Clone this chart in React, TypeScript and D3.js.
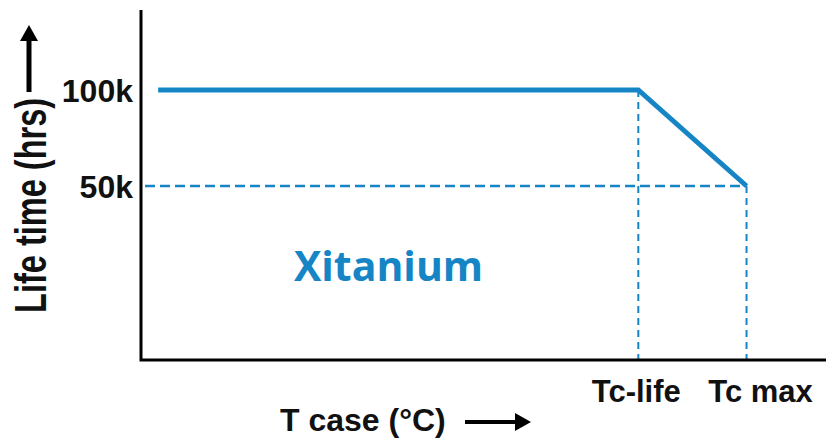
import React, { useRef, useEffect } from 'react';
import * as d3 from 'd3';

// life curve: temperature (arbitrary units) vs hours
const curveTemps = [2.5, 72.6, 88.4];
const curveHours = [100000, 100000, 50000];
const yTicks = [100000, 50000];
const yTickLabels = ['100k', '50k'];
const xMarks = [72.6, 88.4];
const xMarkLabels = ['Tc-life', 'Tc max'];
const seriesName = 'Xitanium';

const W = 826;
const H = 443;
const BLUE = '#1585c6';

const App: React.FC = () => {
  const svgRef = useRef<SVGSVGElement>(null);

  useEffect(() => {
    if (!svgRef.current) return;
    const svg = d3.select(svgRef.current);
    svg.selectAll('*').remove();

    const axisX = 141;
    const axisY = 360;
    const x = d3.scaleLinear().domain([0, 100]).range([axisX, W]);
    const y = d3.scaleLinear().domain([50000, 100000]).range([186, 90]);
    const font = "'Liberation Sans', Arial, sans-serif";

    // dashed guides
    const hMin = d3.min(curveHours) as number;
    svg
      .append('line')
      .attr('x1', axisX + 4)
      .attr('x2', x(curveTemps[2]))
      .attr('y1', y(hMin))
      .attr('y2', y(hMin))
      .attr('stroke', BLUE)
      .attr('stroke-width', 2.5)
      .attr('stroke-dasharray', '10,5');

    xMarks.forEach((t, i) => {
      svg
        .append('line')
        .attr('x1', x(t))
        .attr('x2', x(t))
        .attr('y1', i === 0 ? y(100000) : y(hMin))
        .attr('y2', axisY)
        .attr('stroke', BLUE)
        .attr('stroke-width', 2)
        .attr('stroke-dasharray', '7,5');
    });

    // curve
    const line = d3
      .line<number>()
      .x((d, i) => x(curveTemps[i]))
      .y((d) => y(d));
    svg
      .append('path')
      .attr('d', line(curveHours))
      .attr('fill', 'none')
      .attr('stroke', BLUE)
      .attr('stroke-width', 5);

    // axes
    svg
      .append('path')
      .attr('d', `M${axisX},10 V${axisY} H${W}`)
      .attr('fill', 'none')
      .attr('stroke', '#000')
      .attr('stroke-width', 3);

    // y tick labels
    yTicks.forEach((v, i) => {
      svg
        .append('text')
        .attr('x', 133)
        .attr('y', y(v))
        .attr('dy', '0.36em')
        .attr('text-anchor', 'end')
        .attr('font-family', font)
        .attr('font-weight', 'bold')
        .attr('font-size', 32)
        .attr('fill', '#111')
        .text(yTickLabels[i]);
    });

    // x mark labels
    xMarks.forEach((t, i) => {
      svg
        .append('text')
        .attr('x', x(t) + (i === 0 ? -2 : 14))
        .attr('y', 402)
        .attr('text-anchor', 'middle')
        .attr('font-family', font)
        .attr('font-weight', 'bold')
        .attr('font-size', 31)
        .attr('fill', '#111')
        .text(xMarkLabels[i]);
    });

    // x axis title + arrow
    svg
      .append('text')
      .attr('x', 280)
      .attr('y', 431)
      .attr('font-family', font)
      .attr('font-weight', 'bold')
      .attr('font-size', 32)
      .attr('fill', '#111')
      .text('T case (°C)');
    svg
      .append('line')
      .attr('x1', 465)
      .attr('x2', 518)
      .attr('y1', 422)
      .attr('y2', 422)
      .attr('stroke', '#000')
      .attr('stroke-width', 4);
    svg
      .append('path')
      .attr('d', 'M531,422 L515,413 L515,431 Z')
      .attr('fill', '#000');

    // y axis title + arrow
    svg
      .append('text')
      .attr('transform', 'translate(46,313) rotate(-90) scale(0.74,1)')
      .attr('font-family', font)
      .attr('font-weight', 'bold')
      .attr('font-size', 44)
      .attr('fill', '#111')
      .text('Life time (hrs)');
    svg
      .append('line')
      .attr('x1', 29)
      .attr('x2', 29)
      .attr('y1', 92)
      .attr('y2', 36)
      .attr('stroke', '#000')
      .attr('stroke-width', 5);
    svg
      .append('path')
      .attr('d', 'M29,25 L20,41 L38,41 Z')
      .attr('fill', '#000');

    // series name
    svg
      .append('text')
      .attr('x', 294)
      .attr('y', 281)
      .attr('font-family', "'Open Sans', 'Noto Sans', sans-serif")
      .attr('font-weight', 'bold')
      .attr('font-size', 41)
      .attr('fill', BLUE)
      .text(seriesName);
  }, []);

  return (
    <div style={{ position: 'absolute', left: 0, top: 0 }}>
      <svg ref={svgRef} width={W} height={H} style={{ display: 'block', background: '#fff' }} />
    </div>
  );
};

export default App;
